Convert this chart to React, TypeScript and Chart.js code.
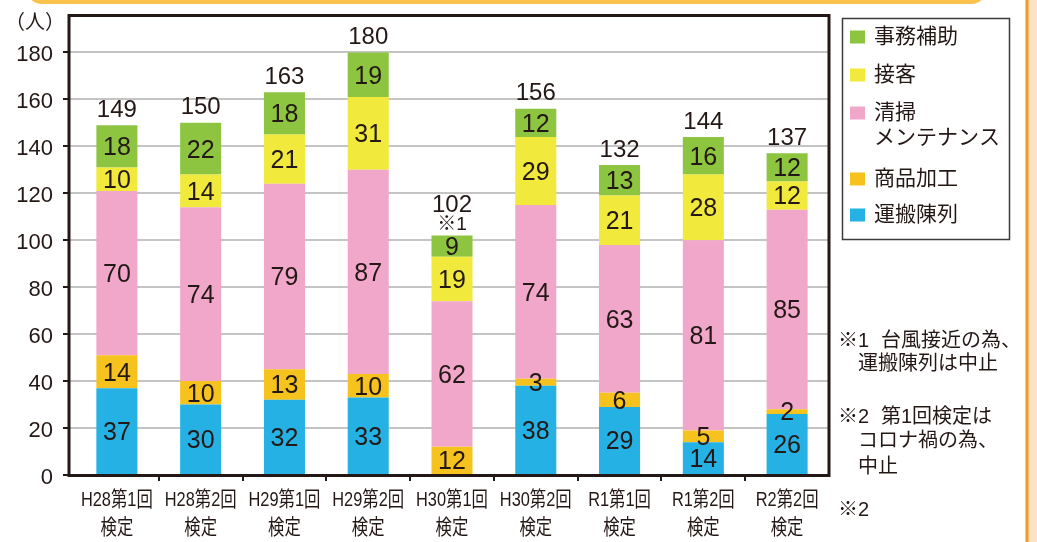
import React, { useEffect, useRef } from 'react';
import { Chart, registerables } from 'chart.js';

Chart.register(...registerables);

// ---- data ----
const categories: string[][] = [
  ['H28第1回', '検定'],
  ['H28第2回', '検定'],
  ['H29第1回', '検定'],
  ['H29第2回', '検定'],
  ['H30第1回', '検定'],
  ['H30第2回', '検定'],
  ['R1第1回', '検定'],
  ['R1第2回', '検定'],
  ['R2第2回', '検定'],
];
const transport = [37, 30, 32, 33, 0, 38, 29, 14, 26]; // 運搬陳列
const processing = [14, 10, 13, 10, 12, 3, 6, 5, 2]; // 商品加工
const cleaning = [70, 74, 79, 87, 62, 74, 63, 81, 85]; // 清掃メンテナンス
const service = [10, 14, 21, 31, 19, 29, 21, 28, 12]; // 接客
const clerical = [18, 22, 18, 19, 9, 12, 13, 16, 12]; // 事務補助
const totals = [149, 150, 163, 180, 102, 156, 132, 144, 137];
const totalNotes = ['', '', '', '', '※1', '', '', '', ''];

const seriesLabels = ['運搬陳列', '商品加工', '清掃メンテナンス', '接客', '事務補助'];
const legendLines: string[][] = [['運搬陳列'], ['商品加工'], ['清掃', 'メンテナンス'], ['接客'], ['事務補助']];
const seriesColors = ['#25b1e3', '#f6c21d', '#f1a7c9', '#f1ea3c', '#8dc540'];

const yMin = 0;
const yMax = 195.5;
const yStep = 20;
const yUnit = '（人）';

const noteLines = [
  { mark: '※1', text: '台風接近の為、' },
  { mark: '', text: '運搬陳列は中止' },
  { mark: '※2', text: '第1回検定は' },
  { mark: '', text: 'コロナ禍の為、' },
  { mark: '', text: '中止' },
];
const footNote = '※2';

// ---- style ----
const DARK = '#231815';
const NUM_FONT = "'Liberation Sans', Arial, sans-serif";
const JP_FONT = "'Liberation Sans', 'Noto Sans CJK JP', sans-serif";

const decorPlugin = {
  id: 'decor',
  beforeDraw(chart: any) {
    const { ctx, width, height } = chart;
    ctx.save();
    ctx.fillStyle = '#ffffff';
    ctx.fillRect(0, 0, width, height);
    // top rounded orange frame edge
    ctx.strokeStyle = '#f9c24d';
    ctx.lineWidth = 4;
    ctx.beginPath();
    (ctx as any).roundRect(28, -40, 957, 42, 14);
    ctx.stroke();
    // right strip
    ctx.fillStyle = '#fde3c6';
    ctx.fillRect(1028, 0, 9, height);
    ctx.fillStyle = '#f39a1e';
    ctx.fillRect(1025.5, 0, 3, height);
    ctx.restore();
  },
  afterDatasetsDraw(chart: any) {
    const { ctx, chartArea } = chart;
    const { left, right, top, bottom } = chartArea;
    const axisX = left - 6;
    const ys = chart.scales.y;
    ctx.save();
    // y tick extension + tick marks
    ys.ticks.forEach((t: any) => {
      const py = Math.round(ys.getPixelForValue(t.value));
      ctx.strokeStyle = '#c4c4c4';
      ctx.lineWidth = 2;
      ctx.beginPath();
      ctx.moveTo(axisX, py);
      ctx.lineTo(left, py);
      ctx.stroke();
      ctx.strokeStyle = DARK;
      ctx.beginPath();
      ctx.moveTo(axisX - 6, py);
      ctx.lineTo(axisX, py);
      ctx.stroke();
    });
    // frame
    ctx.strokeStyle = DARK;
    ctx.lineWidth = 3;
    ctx.strokeRect(axisX, top - 0.5, right - axisX, bottom - top + 1);

    // segment labels
    ctx.fillStyle = DARK;
    ctx.textAlign = 'center';
    ctx.textBaseline = 'middle';
    ctx.font = `25px ${NUM_FONT}`;
    chart.data.datasets.forEach((ds: any, di: number) => {
      const meta = chart.getDatasetMeta(di);
      meta.data.forEach((el: any, i: number) => {
        const v = ds.data[i];
        if (!v) return;
        const p = el.getProps(['x', 'y', 'base'], true);
        ctx.fillText(String(v), p.x, (p.y + p.base) / 2 + 2);
      });
    });
    // totals
    const n = chart.data.labels.length;
    for (let i = 0; i < n; i++) {
      let topY = Infinity;
      let x = 0;
      chart.data.datasets.forEach((_: any, di: number) => {
        const el = chart.getDatasetMeta(di).data[i];
        const p = el.getProps(['x', 'y', 'base'], true);
        topY = Math.min(topY, p.y, p.base);
        x = p.x;
      });
      ctx.font = `24px ${NUM_FONT}`;
      if (totalNotes[i]) {
        ctx.fillText(String(totals[i]), x, topY - 30);
        ctx.font = `19px ${JP_FONT}`;
        ctx.fillText(totalNotes[i], x, topY - 11);
      } else {
        ctx.fillText(String(totals[i]), x, topY - 15);
      }
    }
    ctx.restore();
  },
  afterDraw(chart: any) {
    const { ctx } = chart;
    const xs = chart.scales.x;
    ctx.save();
    ctx.fillStyle = DARK;
    ctx.textBaseline = 'middle';

    // y unit
    ctx.textAlign = 'center';
    ctx.font = `20px ${JP_FONT}`;
    ctx.fillText(yUnit, 35, 23);

    // x labels (condensed)
    ctx.font = `21px ${JP_FONT}`;
    categories.forEach((lines, i) => {
      const x = xs.getPixelForValue(i);
      lines.forEach((t, j) => {
        ctx.save();
        ctx.translate(x, 500 + j * 28);
        ctx.scale(0.78, 1);
        ctx.fillText(t, 0, 0);
        ctx.restore();
      });
    });

    // legend
    ctx.strokeStyle = '#3e3a39';
    ctx.lineWidth = 1.5;
    ctx.strokeRect(842.5, 18.5, 167, 221);
    const rowY = [37, 75, 113, 179, 215];
    ctx.textAlign = 'left';
    ctx.font = `21px ${JP_FONT}`;
    const order = [4, 3, 2, 1, 0];
    order.forEach((di, r) => {
      const ds = chart.data.datasets[di];
      const y = rowY[r];
      ctx.fillStyle = ds.backgroundColor;
      ctx.fillRect(850, y - 6.5, 15, 13);
      ctx.fillStyle = DARK;
      legendLines[di].forEach((t, k) => ctx.fillText(t, 874, y + k * 25));
    });

    // notes
    ctx.font = `20px ${JP_FONT}`;
    const noteY = [341, 364, 417, 441, 467];
    noteLines.forEach((ln, k) => {
      if (ln.mark) {
        ctx.fillText(ln.mark, 838, noteY[k]);
        ctx.fillText(ln.text, 881, noteY[k]);
      } else {
        ctx.fillText(ln.text, 858, noteY[k]);
      }
    });
    ctx.fillText(footNote, 838, 510);
    ctx.restore();
  },
};

export default function App() {
  const ref = useRef<HTMLCanvasElement | null>(null);
  useEffect(() => {
    if (!ref.current) return;
    const data = [transport, processing, cleaning, service, clerical];
    const chart = new Chart(ref.current, {
      type: 'bar',
      data: {
        labels: categories.map((c) => c.join('')),
        datasets: data.map((d, i) => ({
          label: seriesLabels[i],
          data: d,
          backgroundColor: seriesColors[i],
          borderWidth: 0,
          categoryPercentage: 1,
          barPercentage: 0.49,
        })),
      },
      options: {
        responsive: false,
        animation: false,
        devicePixelRatio: 1,
        layout: { padding: { top: 16, right: 208, left: 0, bottom: 0 } },
        plugins: { legend: { display: false }, tooltip: { enabled: false }, title: { display: false } },
        scales: {
          x: {
            stacked: true,
            offset: true,
            afterFit: (s: any) => {
              s.height = 67;
              s.paddingLeft = 0;
              s.paddingRight = 0;
            },
            border: { display: false },
            grid: {
              offset: true,
              drawOnChartArea: false,
              drawTicks: true,
              tickLength: 6,
              lineWidth: 2,
              tickColor: (c: any) => (c.type === 'tick' && c.index > 0 ? DARK : 'rgba(0,0,0,0)'),
            },
            ticks: { display: false },
          },
          y: {
            stacked: true,
            min: yMin,
            max: yMax,
            afterFit: (s: any) => {
              s.width = 75;
              s.paddingTop = 0;
              s.paddingBottom = 0;
            },
            border: { display: false },
            grid: { color: '#c4c4c4', lineWidth: 2, drawTicks: false },
            ticks: {
              stepSize: yStep,
              includeBounds: false,
              padding: 22,
              labelOffset: 3,
              color: DARK,
              font: { family: NUM_FONT, size: 22 },
            },
          },
        },
      },
      plugins: [decorPlugin],
    });
    return () => chart.destroy();
  }, []);
  return (
    <div style={{ position: 'absolute', left: 0, top: 0, width: 1037, height: 542, background: '#fff' }}>
      <canvas ref={ref} width={1037} height={542} style={{ width: 1037, height: 542, display: 'block' }} />
    </div>
  );
}
